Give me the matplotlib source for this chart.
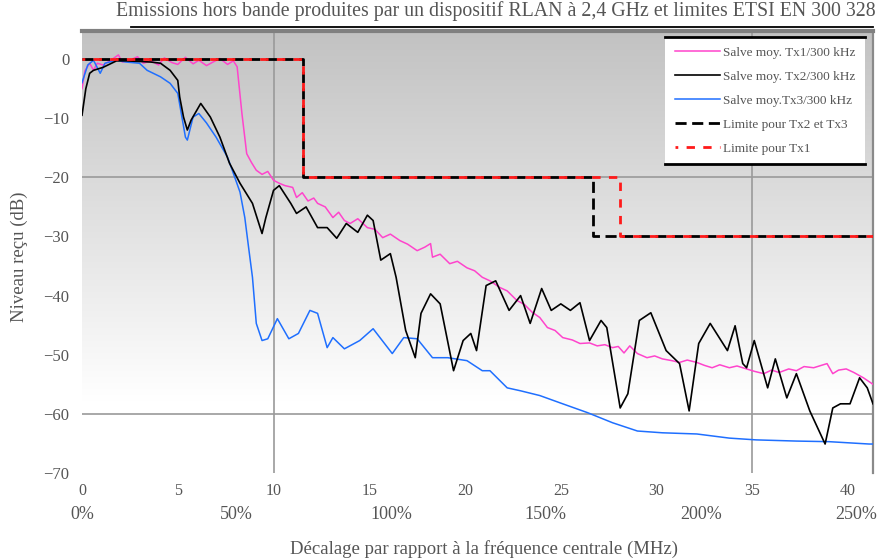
import matplotlib as mpl
mpl.use('Agg')
import matplotlib.pyplot as plt
import numpy as np

plt.rcParams['font.family'] = ['Liberation Serif', 'DejaVu Serif']
plt.rcParams['text.color'] = '#555555'
plt.rcParams['axes.labelcolor'] = '#555555'
plt.rcParams['xtick.color'] = '#555555'
plt.rcParams['ytick.color'] = '#555555'

# --- data (MHz offset, dB) ---
tx1_x = [0, 0.15, 0.4, 0.6, 0.8, 1.1, 1.5, 1.9, 2.1, 2.5, 2.9, 3.2, 3.6, 4.0, 4.3, 4.7,
         5.0, 5.4, 5.8, 6.1, 6.5, 6.9, 7.2, 7.6, 7.9, 8.1, 8.35, 8.6, 8.85, 9.1, 9.4,
         9.7, 10.0, 10.3, 10.6, 11.0, 11.2, 11.5, 11.8, 12.1, 12.3, 12.7, 13.1, 13.4,
         13.7, 14.0, 14.4, 14.9, 15.3, 15.7, 16.1, 16.6, 17.0, 17.5, 17.9, 18.2, 18.3,
         18.7, 19.2, 19.6, 20.1, 20.5, 20.9, 21.3, 21.8, 22.2, 22.7, 23.1, 23.5, 23.9,
         24.3, 24.7, 25.1, 25.6, 26.0, 26.5, 26.9, 27.3, 27.7, 28.0, 28.3, 28.6, 29.0,
         29.5, 29.9, 30.3, 30.8, 31.2, 31.6, 32.1, 32.5, 32.9, 33.3, 33.8, 34.2, 34.7,
         35.1, 35.6, 36.0, 36.4, 36.9, 37.3, 37.7, 38.2, 38.6, 38.9, 39.2, 39.5, 39.9,
         40.3, 40.8, 41.3]
tx1_y = [-5.0, -2.0, -0.7, -1.9, -0.7, -1.0, -0.2, 0.7, -0.5, -0.2, 0.4, -0.7, -0.3,
         -1.0, 0.2, -0.6, -0.9, 0.3, -0.8, -0.2, -1.1, -0.4, 0.1, -0.9, -0.3, -1.3,
         -9.2, -16.0, -17.5, -18.8, -19.5, -19.0, -20.5, -21.0, -21.4, -21.7, -23.4,
         -22.6, -24.0, -23.5, -24.4, -25.0, -26.8, -25.9, -27.3, -27.8, -27.0, -28.5,
         -28.8, -30.2, -29.6, -30.7, -31.3, -32.4, -31.8, -31.2, -33.5, -33.0, -34.6,
         -34.2, -35.3, -35.8, -36.9, -37.5, -38.6, -39.2, -40.8, -41.5, -42.8, -43.7,
         -45.4, -45.9, -47.1, -47.5, -48.1, -48.0, -48.5, -48.3, -48.8, -48.6, -49.7,
         -48.5, -49.8, -50.5, -50.2, -50.7, -51.0, -51.3, -50.9, -51.3, -51.8, -52.2,
         -51.7, -52.2, -51.9, -52.4, -52.8, -53.2, -52.6, -53.0, -52.4, -52.7, -52.0,
         -52.2, -51.8, -51.5, -53.2, -52.6, -52.4, -53.0, -53.9, -55.0]

tx2_x = [0, 0.2, 0.4, 0.6, 1.1, 1.8, 2.3, 3.0, 3.6, 4.1, 4.6, 5.0, 5.1, 5.3, 5.5, 5.7,
         6.2, 6.7, 7.2, 7.7, 8.25, 8.9, 9.4, 9.6, 10.0, 10.3, 10.9, 11.2, 11.7, 12.3,
         12.8, 13.3, 13.8, 14.4, 14.9, 15.2, 15.6, 16.1, 16.4, 16.9, 17.4, 17.7, 18.2,
         18.7, 19.4, 19.9, 20.3, 20.6, 21.1, 21.6, 22.3, 22.9, 23.4, 24.0, 24.5, 25.0,
         25.5, 26.0, 26.5, 27.1, 27.4, 28.1, 28.5, 29.1, 29.7, 30.5, 31.2, 31.7, 32.2,
         32.8, 33.7, 34.1, 34.5, 34.7, 35.1, 35.8, 36.2, 36.8, 37.3, 38.0, 38.8, 39.2,
         39.6, 40.1, 40.6, 41.0, 41.3]
tx2_y = [-9.5, -5.0, -2.4, -1.9, -1.4, -0.3, -0.3, -0.4, -0.5, -0.7, -1.9, -3.6, -6.4,
         -9.8, -12.0, -10.3, -7.5, -9.8, -13.2, -17.6, -21.0, -24.4, -29.5, -26.8,
         -22.2, -21.4, -24.4, -26.1, -25.0, -28.5, -28.5, -30.3, -27.8, -29.3, -26.4,
         -27.3, -34.0, -32.9, -36.9, -45.9, -50.5, -43.0, -39.7, -41.4, -52.7, -47.6,
         -46.4, -49.3, -38.3, -37.5, -42.5, -40.0, -44.7, -38.8, -42.5, -41.4, -42.5,
         -41.2, -47.6, -44.2, -45.4, -59.0, -56.6, -44.2, -42.9, -49.3, -51.5, -59.5,
         -48.1, -44.7, -49.3, -45.1, -51.5, -52.2, -47.6, -55.6, -50.7, -57.3, -53.2,
         -59.5, -65.1, -59.0, -58.3, -58.3, -53.9, -55.6, -58.3]

tx3_x = [0, 0.3, 0.6, 0.95, 1.2, 1.8, 2.3, 3.0, 3.4, 4.1, 4.6, 5.0, 5.4, 5.5, 5.8, 6.1,
         6.5, 7.0, 7.6, 7.9, 8.25, 8.5, 8.7, 8.9, 9.1, 9.4, 9.7, 10.2, 10.8, 11.3, 11.9,
         12.3, 12.8, 13.1, 13.7, 14.5, 15.2, 16.2, 16.8, 17.5, 18.3, 19.1, 20.1, 20.9,
         21.3, 22.2, 22.9, 23.9, 25.1, 26.4, 27.7, 29.0, 30.3, 32.1, 33.8, 35.2, 37.3,
         39.0, 41.1, 41.3]
tx3_y = [-4.0, -1.0, -0.2, -2.4, -0.7, -0.2, -0.5, -0.7, -1.9, -3.0, -4.1, -5.8,
         -13.2, -13.7, -9.8, -9.2, -10.8, -13.2, -16.6, -19.3, -22.5, -26.8, -31.9,
         -36.9, -44.7, -47.6, -47.3, -43.9, -47.3, -46.4, -42.5, -43.0, -48.8, -47.1,
         -49.0, -47.6, -45.6, -49.8, -47.1, -47.3, -50.5, -50.5, -51.0, -52.7, -52.7,
         -55.6, -56.1, -56.9, -58.3, -59.8, -61.5, -62.9, -63.2, -63.4, -64.1, -64.4,
         -64.6, -64.7, -65.1, -65.1]

lim23_x = [0, 11.55, 11.55, 26.7, 26.7, 41.3]
lim23_y = [0, 0, -20, -20, -30, -30]
lim1_x = [0, 11.55, 11.55, 28.1, 28.1, 41.3]
lim1_y = [0, 0, -20, -20, -30, -30]

xticks = [0, 5, 10, 15, 20, 25, 30, 35, 40]
yticks = [-70, -60, -50, -40, -30, -20, -10, 0]
pct_labels = ['0%', '50%', '100%', '150%', '200%', '250%']
pct_pos = [0, 8.08, 16.15, 24.2, 32.3, 40.4]

labels = ['Salve moy. Tx1/300 kHz', 'Salve moy. Tx2/300 kHz', 'Salve moy.Tx3/300 kHz',
          'Limite pour Tx2 et Tx3', 'Limite pour Tx1']

fig = plt.figure(figsize=(8.79, 5.60), dpi=100)
ax = fig.add_axes([82/879, 1-473/560, 791/879, 442/560])
ax.set_xlim(0, 41.3)
ax.set_ylim(-70, 4.75)

# grey-to-white gradient background
grad = np.linspace(0.76, 1.0, 200)
grad = np.concatenate([grad, np.ones(30)]).reshape(-1, 1)
ax.imshow(np.dstack([grad, grad, grad]), extent=[0, 41.3, -67.5, 4.75],
          aspect='auto', origin='upper', zorder=0)

for gx in [10, 35]:
    ax.axvline(gx, color='#9a9a9a', lw=1.2, zorder=1)
for gy in [-20, -60]:
    ax.axhline(gy, color='#9a9a9a', lw=1.2, zorder=1)

l1, = ax.plot(tx1_x, tx1_y, color='#ff44cc', lw=1.1, zorder=3)
l2, = ax.plot(tx2_x, tx2_y, color='black', lw=1.2, zorder=4)
l3, = ax.plot(tx3_x, tx3_y, color='#1f6fff', lw=1.1, zorder=3)
l4, = ax.plot(lim23_x, lim23_y, color='black', lw=2.0, ls=(0, (4, 2)), zorder=5)
l5, = ax.plot(lim1_x, lim1_y, color='#ff1a1a', lw=2.0, ls=(2, (3, 3)), zorder=6)

ax.set_xticks(xticks)
ax.set_yticks(yticks)
ax.tick_params(length=0, labelsize=12)
ax.tick_params(axis='x', pad=7, labelsize=11.5)
ax.tick_params(axis='y', pad=9)

for p, s in zip(pct_pos, pct_labels):
    ax.text(p, -0.095, s, transform=ax.get_xaxis_transform(), ha='center',
            va='center', fontsize=13)

for s in ['left', 'bottom']:
    ax.spines[s].set_visible(False)
ax.spines['right'].set_color('#8a8a8a')
ax.spines['right'].set_linewidth(1.6)
ax.spines['top'].set_color('#808080')
ax.spines['top'].set_linewidth(3.0)
ax.plot([0.062, 1.0], [1.009, 1.009], transform=ax.transAxes, color='black',
        lw=1.3, clip_on=False, zorder=10)

ax.set_xlabel('Décalage par rapport à la fréquence centrale (MHz)', fontsize=13.5)
ax.xaxis.set_label_coords(0.508, -0.152)
ax.set_ylabel('Niveau reçu (dB)', fontsize=13.5)
ax.yaxis.set_label_coords(-0.068, 0.49)

fig.text(0.564, 0.98, 'Emissions hors bande produites par un dispositif RLAN à 2,4 GHz '
         'et limites ETSI EN 300 328', ha='center', va='center', fontsize=14.3)

leg = ax.legend([l1, l2, l3, l4, l5], labels, loc='upper right',
                bbox_to_anchor=(0.99, 0.986), borderaxespad=0, fontsize=9.5,
                handlelength=3.4, handletextpad=0.3, labelspacing=0.9,
                borderpad=0.7, fancybox=False, framealpha=1, facecolor='white',
                edgecolor='none')
leg.set_zorder(20)

fig.canvas.draw()
bb = leg.get_window_extent().transformed(fig.transFigure.inverted())
for yy in [bb.y0, bb.y1]:
    fig.add_artist(plt.Line2D([bb.x0, bb.x1], [yy, yy], color='black', lw=2,
                              zorder=30))

fig.savefig('out.png', dpi=100)
